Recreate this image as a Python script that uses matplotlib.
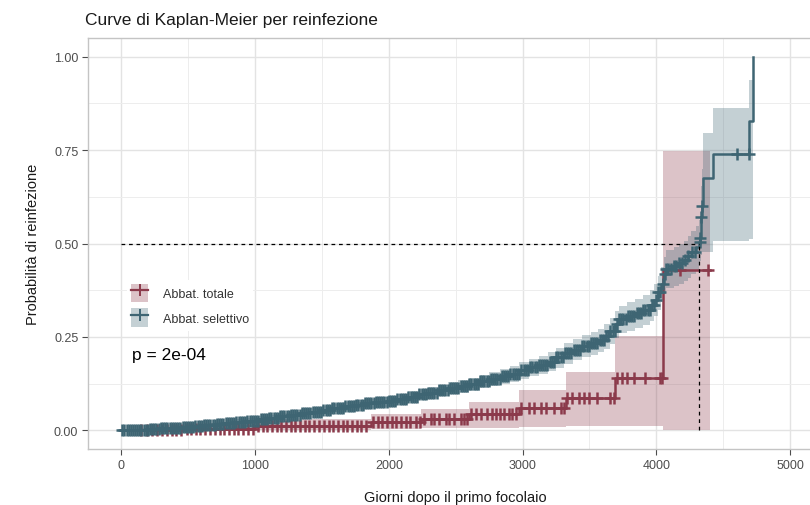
import numpy as np
import matplotlib
matplotlib.use("Agg")
import matplotlib.pyplot as plt
from matplotlib.patches import Patch
from matplotlib.lines import Line2D
from matplotlib.legend_handler import HandlerTuple

plt.rcParams['font.family'] = ['Liberation Sans', 'DejaVu Sans']

# ---------------- data ----------------
title = "Curve di Kaplan-Meier per reinfezione"
xlabel = "Giorni dopo il primo focolaio"
ylabel = "Probabilità di reinfezione"
series_names = ["Abbat. totale", "Abbat. selettivo"]
pval_text = "p = 2e-04"
x_ticks = [0, 1000, 2000, 3000, 4000, 5000]
y_ticks = [0.00, 0.25, 0.50, 0.75, 1.00]
y_ticklabels = ["0.00", "0.25", "0.50", "0.75", "1.00"]

# Abbat. totale (red)
red_t  = [0,    480,   1000,  1866,  2239,  2597,  2970,  3321,  3694,  4052,  4403]
red_v  = [0.0,  0.004, 0.011, 0.022, 0.031, 0.043, 0.060, 0.086, 0.140, 0.430, 0.430]
red_lo = [0.0,  0.000, 0.002, 0.004, 0.005, 0.007, 0.010, 0.011, 0.011, 0.001, 0.001]
red_hi = [0.0,  0.014, 0.030, 0.043, 0.056, 0.076, 0.107, 0.156, 0.253, 0.747, 0.747]
red_cens = [150, 190, 230, 265, 300, 340, 375, 410, 445, 490, 520, 555, 590, 625,
            660, 700, 735, 770, 805, 840, 875, 910, 945, 985, 1020, 1055, 1090, 1125,
            1160, 1195, 1230, 1265, 1300, 1335, 1370, 1405, 1440, 1480, 1515, 1550,
            1585, 1620, 1655, 1690, 1725, 1760, 1795, 1830, 1880, 1915, 1950, 1985,
            2020, 2055, 2090, 2125, 2160, 2200, 2230, 2264, 2313, 2340, 2375, 2425,
            2450, 2487, 2537, 2560, 2587, 2612, 2649, 2687, 2736, 2770, 2798, 2830,
            2860, 2900, 2922, 2947, 2985, 3047, 3085, 3134, 3172, 3234, 3284, 3309,
            3333, 3371, 3420, 3458, 3495, 3557, 3657, 3682, 3706, 3744, 3781, 3831,
            3918, 4030, 4042, 4179, 4388]

# Abbat. selettivo (blue)
blue_t = [0, 45, 120, 205, 290, 370, 455, 540, 615, 700, 780, 860, 940, 1025, 1100,
          1180, 1260, 1345, 1420, 1500, 1575, 1660, 1740, 1820, 1900, 1985, 2060, 2140,
          2215, 2290, 2370, 2445, 2520, 2600, 2680, 2750, 2830, 2905, 2975, 3050, 3120,
          3190, 3250, 3310, 3380, 3445, 3510, 3565, 3610, 3650, 3690, 3720, 3780, 3840,
          3900, 3950, 3985, 4010, 4035, 4055, 4070, 4130, 4170, 4205, 4235, 4260, 4300,
          4321, 4325, 4332, 4340, 4351, 4425, 4694, 4724]
blue_v = [0.0, 0.001, 0.002, 0.003, 0.005, 0.007, 0.009, 0.011, 0.014, 0.017, 0.020,
          0.023, 0.026, 0.029, 0.033, 0.037, 0.041, 0.046, 0.050, 0.055, 0.060, 0.064,
          0.068, 0.072, 0.075, 0.079, 0.084, 0.090, 0.096, 0.101, 0.107, 0.113, 0.118,
          0.124, 0.131, 0.138, 0.145, 0.152, 0.161, 0.169, 0.176, 0.184, 0.195, 0.206,
          0.216, 0.226, 0.233, 0.241, 0.252, 0.266, 0.285, 0.298, 0.306, 0.314, 0.323,
          0.335, 0.350, 0.370, 0.392, 0.418, 0.433, 0.441, 0.447, 0.456, 0.466, 0.478,
          0.490, 0.505, 0.515, 0.570, 0.600, 0.675, 0.739, 0.828, 1.000]
blue_lo = [0.0, 0.000, 0.000, 0.001, 0.002, 0.003, 0.005, 0.006, 0.008, 0.011, 0.013,
           0.016, 0.018, 0.021, 0.024, 0.028, 0.031, 0.036, 0.040, 0.044, 0.049, 0.052,
           0.056, 0.060, 0.063, 0.066, 0.071, 0.076, 0.081, 0.086, 0.091, 0.097, 0.101,
           0.106, 0.112, 0.118, 0.124, 0.130, 0.138, 0.145, 0.151, 0.158, 0.168, 0.178,
           0.187, 0.196, 0.202, 0.209, 0.218, 0.231, 0.248, 0.260, 0.267, 0.274, 0.282,
           0.292, 0.305, 0.323, 0.343, 0.366, 0.380, 0.387, 0.392, 0.400, 0.409, 0.419,
           0.430, 0.443, 0.452, 0.470, 0.478, 0.478, 0.508, 0.513, 0.513]
blue_hi = [0.0, 0.003, 0.005, 0.006, 0.008, 0.011, 0.013, 0.016, 0.019, 0.023, 0.027,
           0.030, 0.034, 0.037, 0.041, 0.046, 0.050, 0.056, 0.060, 0.065, 0.071, 0.075,
           0.080, 0.084, 0.088, 0.092, 0.097, 0.104, 0.110, 0.116, 0.122, 0.129, 0.135,
           0.141, 0.149, 0.157, 0.165, 0.173, 0.183, 0.192, 0.200, 0.209, 0.221, 0.233,
           0.244, 0.255, 0.263, 0.272, 0.285, 0.300, 0.320, 0.334, 0.343, 0.352, 0.362,
           0.376, 0.392, 0.414, 0.438, 0.465, 0.482, 0.491, 0.498, 0.508, 0.520, 0.533,
           0.546, 0.562, 0.573, 0.655, 0.700, 0.796, 0.863, 0.938, 0.938]
blue_cens = [5, 20, 38, 55, 70, 88, 102, 118, 135, 150, 168, 182, 198, 215, 230, 247,
             262, 278, 295, 312, 326, 343, 360, 375, 392, 408, 425, 440, 457, 472, 488,
             505, 520, 537, 552, 570, 585, 601, 618, 633, 650, 666, 682, 698, 715, 730,
             747, 762, 780, 795, 812, 828, 845, 860, 877, 893, 910, 925, 942, 958, 975,
             990, 1008, 1023, 1040, 1056, 1073, 1088, 1105, 1120, 1138, 1153, 1170, 1186,
             1203, 1218, 1235, 1250, 1268, 1284, 1300, 1316, 1333, 1348, 1365, 1381,
             1398, 1413, 1430, 1446, 1463, 1478, 1495, 1511, 1528, 1543, 1560, 1576,
             1593, 1609, 1626, 1641, 1658, 1674, 1691, 1706, 1723, 1739, 1756, 1771,
             1788, 1804, 1821, 1836, 1853, 1869, 1886, 1901, 1918, 1934, 1951, 1966,
             1983, 1999, 2016, 2032, 2049, 2064, 2081, 2097, 2114, 2129, 2146, 2162,
             2179, 2194, 2211, 2227, 2244, 2259, 2276, 2292, 2309, 2324, 2341, 2357,
             2374, 2389, 2406, 2422, 2439, 2454, 2471, 2487, 2504, 2519, 2536, 2552,
             2569, 2584, 2601, 2617, 2634, 2649, 2666, 2682, 2699, 2714, 2731, 2747,
             2764, 2779, 2796, 2812, 2829, 2844, 2861, 2877, 2894, 2909, 2926, 2942,
             2959, 2974, 2991, 3007, 3024, 3039, 3056, 3072, 3089, 3104, 3121, 3137,
             3154, 3169, 3186, 3202, 3219, 3234, 3251, 3267, 3284, 3299, 3316, 3332,
             3349, 3364, 3381, 3397, 3414, 3429, 3446, 3462, 3479, 3494, 3511, 3527,
             3544, 3559, 3576, 3592, 3609, 3624, 3641, 3657, 3674, 3689, 3706, 3722,
             3739, 3754, 3771, 3787, 3804, 3819, 3836, 3852, 3869, 3884, 3901, 3917,
             3934, 3949, 3966, 3982, 3999, 4014, 4031, 4047, 4062, 4075, 4090, 4110,
             4130, 4150, 4170, 4190, 4215, 4240, 4265, 4290, 4323, 4328, 4336, 4345,
             4600, 4690]

# ---------------- style ----------------
red_col = "#8B3A4B"
blue_col = "#3E6573"
grid_col = "#E3E3E3"
border_col = "#C4C4C4"
tick_col = "#4D4D4D"

W, H = 810, 506
fig = plt.figure(figsize=(W / 100, H / 100), dpi=100)
ax_l, ax_r, ax_t, ax_b = 88, 823.5, 39, 450
ax = fig.add_axes([ax_l / W, 1 - ax_b / H, (ax_r - ax_l) / W, (ax_b - ax_t) / H])
ax.set_xlim(-250, 5250)
ax.set_ylim(-0.05, 1.05)

# grid
ax.set_xticks(x_ticks)
ax.set_xticks([500, 1500, 2500, 3500, 4500], minor=True)
ax.set_yticks(y_ticks)
ax.set_yticks([0.125, 0.375, 0.625, 0.875], minor=True)
ax.grid(True, which='major', color=grid_col, lw=1.0, zorder=0)
ax.grid(True, which='minor', color="#EDEDED", lw=0.7, zorder=0)
ax.set_axisbelow(True)
ax.tick_params(which='minor', length=0)
ax.tick_params(which='major', length=4, width=0.8, color=tick_col,
               labelsize=9, labelcolor=tick_col, pad=3)
ax.set_yticklabels(y_ticklabels)
for s in ax.spines.values():
    s.set_color(border_col)
    s.set_linewidth(1.0)

# bands
ax.fill_between(red_t, red_lo, red_hi, step='post', color=red_col, alpha=0.3, lw=0, zorder=2)
ax.fill_between(blue_t, blue_lo, blue_hi, step='post', color=blue_col, alpha=0.3, lw=0, zorder=2)

# step lines
ax.step(red_t, red_v, where='post', color=red_col, lw=1.8, zorder=4)
ax.step(blue_t, blue_v, where='post', color=blue_col, lw=1.8, zorder=5)

# censor marks
def km_at(ts, vs, times):
    idx = np.searchsorted(np.asarray(ts), np.asarray(times), side='right') - 1
    return np.asarray(vs)[idx]

ax.plot(red_cens, km_at(red_t, red_v, red_cens), ls='none', marker='+',
        ms=8, mew=1.8, color=red_col, zorder=4)
ax.plot(blue_cens, km_at(blue_t, blue_v, blue_cens), ls='none', marker='+',
        ms=9, mew=1.8, color=blue_col, zorder=5)

# median lines
med_idx = int(np.argmax(np.asarray(blue_v) >= 0.5))
med_t = blue_t[med_idx]
ax.plot([0, med_t], [0.5, 0.5], color='black', lw=0.9, ls=(0, (3, 3)), zorder=6)
ax.plot([med_t, med_t], [0, 0.5], color='black', lw=0.9, ls=(0, (3, 3)), zorder=6)

# legend
handles = [(Patch(facecolor=red_col, alpha=0.3, lw=0),
            Line2D([], [], color=red_col, lw=1.6, marker='+', ms=8, mew=1.4)),
           (Patch(facecolor=blue_col, alpha=0.3, lw=0),
            Line2D([], [], color=blue_col, lw=1.6, marker='+', ms=8, mew=1.4))]
leg = ax.legend(handles, series_names, handler_map={tuple: HandlerTuple(ndivide=1, pad=0)},
                loc='center left', bbox_to_anchor=(0.045, 0.350),
                frameon=True, fancybox=False, edgecolor='none', framealpha=1,
                fontsize=9, handlelength=1.35, handleheight=1.9, handletextpad=1.2,
                labelspacing=0.5, borderpad=0.3)
for txt in leg.get_texts():
    txt.set_color("#333333")

ax.text(0.060, 0.231, pval_text, transform=ax.transAxes, fontsize=12.5,
        ha='left', va='center', color='black')

# labels
fig.text(85 / W, 1 - 20 / H, title, fontsize=12.5, ha='left', va='center', color='#1a1a1a')
ax.set_xlabel(xlabel, fontsize=10.5, color='#1a1a1a', labelpad=14)
ax.set_ylabel(ylabel, fontsize=10.5, color='#1a1a1a', labelpad=10)

fig.savefig("out.png", dpi=100)
